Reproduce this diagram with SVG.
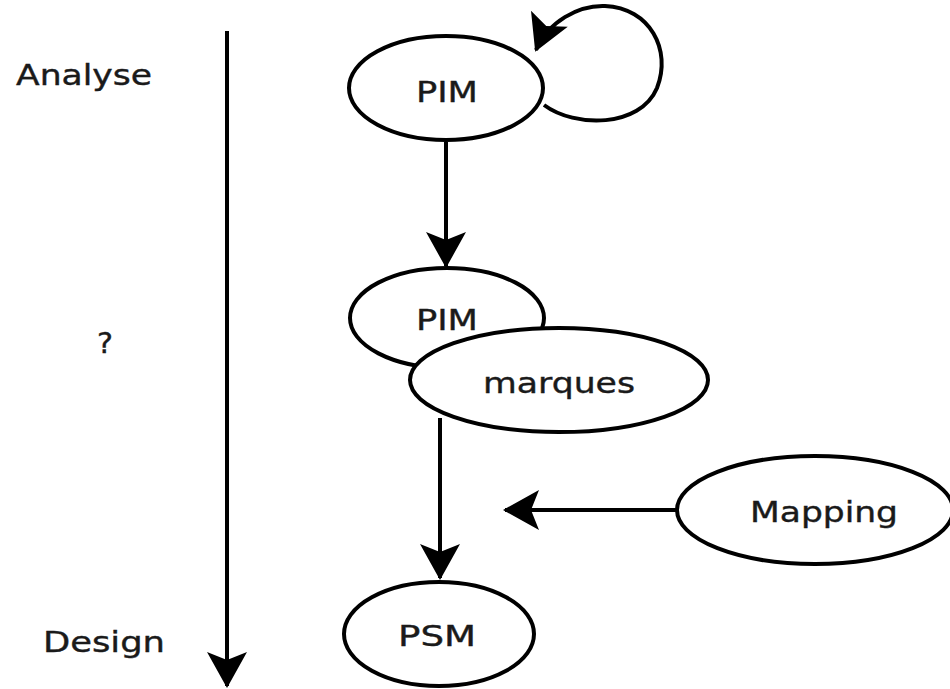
<svg xmlns="http://www.w3.org/2000/svg" width="950" height="689" viewBox="0 0 950 689">
<style>
.n{fill:#fff;stroke:#000;stroke-width:4}
.c{fill:none;stroke:#000;stroke-width:4}
text{font-family:"DejaVu Sans","Liberation Sans",sans-serif;font-size:29px;fill:#1a1a1a;stroke:#1a1a1a;stroke-width:0.4}
</style>
<defs>
<marker id="ah" viewBox="-40 -25 45 50" refX="0" refY="0" markerUnits="userSpaceOnUse" markerWidth="45" markerHeight="50" orient="auto">
<path d="M2,0 L-34,-20 L-26,0 L-34,20 Z" fill="#000"/>
</marker>
</defs>
<rect width="950" height="689" fill="#fff"/>
<g id="labels">
<text x="16" y="85" textLength="136" lengthAdjust="spacingAndGlyphs">Analyse</text>
<text x="97" y="353" textLength="16" lengthAdjust="spacingAndGlyphs">?</text>
<text x="43" y="652" textLength="122" lengthAdjust="spacingAndGlyphs">Design</text>
</g>
<g id="connectors">
<line class="c" x1="227" y1="31" x2="227" y2="686" marker-end="url(#ah)"/>
<path class="c" d="M544,105 C575,128 640,128 657,88 C672,50 650,8 605,6 C578,5 548,22 536,50" marker-end="url(#ah)"/>
<line class="c" x1="446" y1="142" x2="446" y2="266" marker-end="url(#ah)"/>
<line class="c" x1="440" y1="418" x2="440" y2="578" marker-end="url(#ah)"/>
<line class="c" x1="677" y1="510" x2="505" y2="510" marker-end="url(#ah)"/>
</g>
<g id="pim1">
<ellipse class="n" cx="446" cy="88" rx="97" ry="52"/>
<text x="416" y="102" textLength="62" lengthAdjust="spacingAndGlyphs">PIM</text>
</g>
<g id="pim2">
<ellipse class="n" cx="447" cy="318" rx="97" ry="50"/>
<text x="416" y="330" textLength="62" lengthAdjust="spacingAndGlyphs">PIM</text>
</g>
<g id="marques">
<ellipse class="n" cx="559" cy="380" rx="149" ry="52"/>
<text x="483" y="393" textLength="152" lengthAdjust="spacingAndGlyphs">marques</text>
</g>
<g id="mapping">
<ellipse class="n" cx="815" cy="510" rx="138" ry="54"/>
<text x="750" y="522" textLength="148" lengthAdjust="spacingAndGlyphs">Mapping</text>
</g>
<g id="psm">
<ellipse class="n" cx="439" cy="634" rx="95" ry="52"/>
<text x="398" y="646" textLength="78" lengthAdjust="spacingAndGlyphs">PSM</text>
</g>
</svg>
